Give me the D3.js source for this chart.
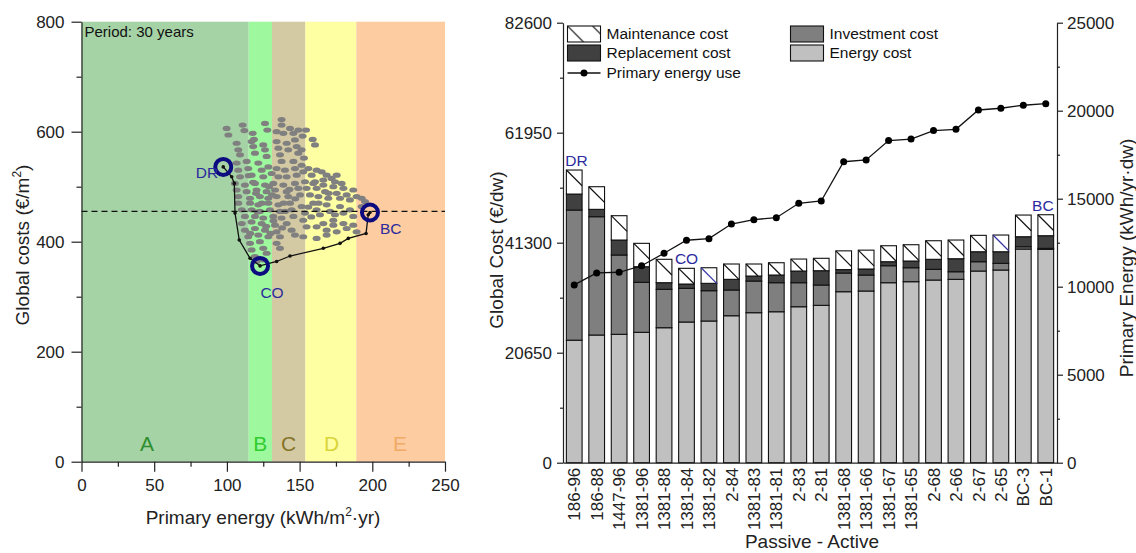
<!DOCTYPE html>
<html>
<head>
<meta charset="utf-8">
<script src="https://cdn.jsdelivr.net/npm/d3@7"></script>
<style>
  body { margin: 0; background: #fff; }
  svg { display: block; font-family: Arial, "Liberation Sans", sans-serif; }
</style>
</head>
<body>
<svg id="chart" width="1136" height="553"></svg>
<script>
// ---------- Left panel: global cost vs primary energy (30-year period) ----------
const bandLetters = ["A", "B", "C", "D", "E"];
const bandEdges = [0, 115, 131, 154, 189, 250];            // kWh/m²·yr class limits
const bandLabelAt = [45, 123, 142.5, 172, 219];             // where each class letter sits
const energyTicks = [0, 50, 100, 150, 200, 250];
const costTicks = [0, 200, 400, 600, 800];
const referenceCost = 455;                                   // €/m², dashed reference level

// Cost-optimal frontier (kWh/m²·yr, €/m²)
const frontierEnergy = [97.5, 103.3, 105.1, 105.6, 108.5, 115.9, 122.8, 134.2, 143.4, 166.3, 177.8, 183.5, 195.7, 197.2, 198.4];
const frontierCost   = [536, 518, 506, 452, 403, 370, 356, 364, 374, 388, 397, 406, 415, 449, 453];

// Highlighted packages
const keyNames  = ["DR", "CO", "BC"];
const keyEnergy = [97.5, 122.8, 198.4];
const keyCost   = [536, 356, 453];

// All evaluated packages [primary energy, global cost]
const cloudPoints = [
  [99.8,606],[101,594],[110.8,612],[112,602],[117.7,597],[118.6,586],[126.2,615],[127.8,603],[134.2,600],
  [137.6,612],[137.6,622],[138.8,597],[143.4,606],[145.7,597],[149.1,603],[152.1,592],[154.4,603],[159,586],[160.6,576],
  [106.7,579],[107.8,567],[109,558],[117,582],[118.1,573],[119.3,561],[125,576],[126.2,567],[127.3,555],
  [134.2,582],[135.4,570],[136.5,558],[141.1,579],[142.2,567],[146.8,585],[148,573],[149.1,561],[151.4,567],
  [153,552],[137.6,546],[145.7,546],
  [106.7,543],[107.8,530],[109,518],[113.6,546],[114.7,533],[117,521],[121.6,543],[123.9,530],[125,518],
  [128.5,536],[130.8,524],[134.2,533],[135.4,518],[139.9,530],[141.1,518],[146.8,533],[148,521],[151.4,539],
  [152.5,527],[156,533],[158.3,521],[160.6,509],[161.7,530],[165.2,527],[166.3,512],[168.6,521],[172,515],
  [174.3,509],[175.5,521],[178.9,506],
  [105.5,506],[106.7,494],[107.8,482],[112.4,503],[113.6,491],[115.9,479],[119.3,506],[120.4,494],[122.7,482],
  [126.2,503],[127.3,491],[128.5,479],[131.9,506],[133.1,494],[134.2,482],[138.8,503],[141.1,491],[142.2,482],
  [146.8,506],[149.1,497],[150.3,485],[153.7,509],[154.8,497],[157.1,485],[159.4,506],[161.7,497],[162.9,482],
  [166.3,503],[167.5,491],[169.7,479],[173.2,500],[175.5,488],[177.8,479],[180.1,497],[182.4,485],[184.6,476],
  [186.9,494],[189.2,482],[192.7,479],[195,473],
  [107.8,470],[110.2,458],[112.4,446],[115.9,470],[117,458],[119.3,446],[121.6,467],[122.7,455],[125,443],
  [128.5,470],[129.6,458],[131.9,446],[135.4,467],[136.5,455],[137.6,443],[143.4,470],[144.5,458],[145.7,446],
  [151.4,464],[153.7,452],[159.4,470],[161.7,458],[164,449],[168.6,467],[170.9,455],[174.3,449],[177.8,464],
  [180.1,452],[184.6,458],[186.9,446],[192.7,464],[173.2,439],
  [110.2,433],[112.4,421],[114.7,409],[117,436],[119.3,424],[121.6,412],[123.9,433],[126.2,421],[128.5,409],
  [133.1,430],[134.2,418],[136.5,409],[141.1,433],[144.5,421],[146.8,412],[152.5,439],[154.8,427],[161.7,427],
  [166.3,433],[168.6,421],[173.2,430],[175.5,418],[180.1,433],[182.4,424],[186.9,430],[189.2,418],
  [115.9,397],[117,385],[119.3,373],[122.7,400],[125,388],[127.3,379],[134.2,397],[136.5,388],[152.5,409],
  [161.7,406],[168.6,412],[120.4,364],[125,367],
  [115,520],[118,508],[120,488],[124,470],[129,500],[131,485],[139,470],[140,455],[132,438],[127,428],
  [121,454],[116,415],[130,415],[138,425],[147,478],[156,463],[163,470],[170,488],[143,495],[158,445]
];

// ---------- Right panel: cost breakdown per package (€/dwelling) ----------
const packages = ["186-96","186-88","1447-96","1381-96","1381-88","1381-84","1381-82","2-84","1381-83","1381-81","2-83",
                  "2-81","1381-68","1381-66","1381-67","1381-65","2-68","2-66","2-67","2-65","BC-3","BC-1"];
const energyCost      = [23000,23970,24100,24480,25340,26410,26600,27590,28160,28340,29280,29540,32100,32230,33790,33980,34290,34420,35980,36170,40110,40050];
const investmentCost  = [24430,22210,14890, 9380, 7210, 6320, 5690, 4830, 5940, 5450, 4510, 3810, 3500, 3000, 3190, 2620, 2010, 1430, 1750, 1260,  430,  190];
const replacementCost = [ 3000, 1380, 2810, 2930, 1240,  810, 1380, 2000,  940, 1440, 2190, 2690,  650, 1130,  750, 1260, 1880, 2440, 1870, 2170, 1880, 2370];
const maintenanceCost = [ 4510, 4250, 4570, 4390, 4390, 2950, 2930, 2880, 2260, 2310, 2250, 2330, 3520, 3540, 3000, 3060, 3490, 3510, 3080, 3140, 4070, 3940];
const primaryEnergyUse = [10100,10780,10820,11190,11900,12640,12730,13560,13810,13920,14740,14870,17100,17200,18300,18390,18870,18940,20040,20140,20310,20400];
const globalCostTicks = [0, 20650, 41300, 61950, 82600];
const primaryEnergyTicks = [0, 5000, 10000, 15000, 20000, 25000];
const barLabels = [["DR", "186-96"], ["CO", "1381-84"], ["BC", "BC-1"]];
const blueHatchPackages = ["1381-82", "2-65"];

const costSeries = ["Energy cost", "Investment cost", "Replacement cost", "Maintenance cost"];
const costValues = [energyCost, investmentCost, replacementCost, maintenanceCost];

// ---------- styling ----------
const bandFill = ["#a5d3a5", "#9ef89e", "#d3c9a3", "#fefea2", "#fdcca0"];
const bandText = ["#2f8f2f", "#30cc30", "#857428", "#d9d43a", "#f2aa66"];
const segFill = { "Energy cost": "#c0c0c0", "Investment cost": "#7f7f7f", "Replacement cost": "#404040", "Maintenance cost": "#ffffff" };
const navy = "#0c0c80";
const labelBlue = "#2b2b9e";
const axisColor = "#222";
const tickFont = 17, titleFont = 19;
const plain = d3.format("d");

const svg = d3.select("#chart");

function styleAxis(g) {
  g.attr("font-size", tickFont).attr("font-family", "Arial, 'Liberation Sans', sans-serif");
  g.selectAll("path, line").attr("stroke", axisColor).attr("stroke-width", 1.2);
  g.selectAll("text").attr("fill", "#222");
}

// ================= LEFT PANEL =================
const xL = d3.scaleLinear([0, 250], [81.5, 445]);
const yL = d3.scaleLinear([0, 800], [461.7, 21.7]);

const left = svg.append("g");

// energy class bands
left.selectAll("rect.band").data(bandLetters).join("rect")
  .attr("class", "band")
  .attr("x", (d, i) => xL(bandEdges[i]))
  .attr("width", (d, i) => xL(bandEdges[i + 1]) - xL(bandEdges[i]))
  .attr("y", yL(800))
  .attr("height", yL(0) - yL(800))
  .attr("fill", (d, i) => bandFill[i]);

left.selectAll("text.band").data(bandLetters).join("text")
  .attr("class", "band")
  .attr("x", (d, i) => xL(bandLabelAt[i]))
  .attr("y", yL(0) - 11)
  .attr("text-anchor", "middle")
  .attr("font-size", 21)
  .attr("fill", (d, i) => bandText[i])
  .text(d => d);

left.append("text").attr("x", xL(0) + 3).attr("y", 37)
  .attr("font-size", 15).attr("fill", "#111").text("Period: 30 years");

// package cloud
left.append("g").selectAll("ellipse").data(cloudPoints).join("ellipse")
  .attr("cx", d => xL(d[0])).attr("cy", d => yL(d[1]))
  .attr("rx", 4).attr("ry", 2.6).attr("fill", "#808080");

// reference cost level
left.append("line")
  .attr("x1", xL(0)).attr("x2", xL(250))
  .attr("y1", yL(referenceCost)).attr("y2", yL(referenceCost))
  .attr("stroke", "#111").attr("stroke-width", 1.2).attr("stroke-dasharray", "6,4");

// cost-optimal frontier
const frontier = frontierEnergy.map((e, i) => [e, frontierCost[i]]);
left.append("path")
  .attr("d", d3.line().x(d => xL(d[0])).y(d => yL(d[1]))(frontier))
  .attr("fill", "none").attr("stroke", "#111").attr("stroke-width", 1.3);
left.append("g").selectAll("circle").data(frontier).join("circle")
  .attr("cx", d => xL(d[0])).attr("cy", d => yL(d[1])).attr("r", 1.8).attr("fill", "#111");

// highlighted packages
left.append("g").selectAll("circle").data(keyNames).join("circle")
  .attr("cx", (d, i) => xL(keyEnergy[i])).attr("cy", (d, i) => yL(keyCost[i]))
  .attr("r", 8).attr("fill", "none").attr("stroke", navy).attr("stroke-width", 4);

left.append("g").selectAll("text").data(keyNames).join("text")
  .attr("x", (d, i) => xL(keyEnergy[i]) + (d === "BC" ? 10 : d === "CO" ? 12 : -5))
  .attr("y", (d, i) => yL(keyCost[i]) + (d === "DR" ? 11 : d === "CO" ? 32 : 21))
  .attr("text-anchor", d => d === "DR" ? "end" : d === "CO" ? "middle" : "start")
  .attr("font-size", 15.5).attr("fill", labelBlue)
  .text(d => d);

// axes
const xAxisL = left.append("g").attr("transform", `translate(0,${yL(0)})`)
  .call(d3.axisBottom(xL).tickValues(energyTicks).tickFormat(plain).tickSize(10).tickSizeOuter(0).tickPadding(7));
styleAxis(xAxisL);
const xMinorL = left.append("g").attr("transform", `translate(0,${yL(0)})`)
  .call(d3.axisBottom(xL).tickValues([25, 75, 125, 175, 225]).tickSize(5).tickFormat(""));
styleAxis(xMinorL); xMinorL.select(".domain").remove();

const yAxisL = left.append("g").attr("transform", `translate(${xL(0)},0)`)
  .call(d3.axisLeft(yL).tickValues(costTicks).tickFormat(plain).tickSize(10).tickSizeOuter(0).tickPadding(7));
styleAxis(yAxisL);
const yMinorL = left.append("g").attr("transform", `translate(${xL(0)},0)`)
  .call(d3.axisLeft(yL).tickValues([100, 300, 500, 700]).tickSize(5).tickFormat(""));
styleAxis(yMinorL); yMinorL.select(".domain").remove();

// axis titles
const xTitleL = left.append("text").attr("x", 263).attr("y", 524)
  .attr("text-anchor", "middle").attr("font-size", titleFont).attr("fill", "#222");
xTitleL.append("tspan").text("Primary energy (kWh/m");
xTitleL.append("tspan").attr("font-size", 12).attr("dy", -8).text("2");
xTitleL.append("tspan").attr("dy", 8).text("·yr)");

const yTitleL = left.append("text").attr("transform", "translate(29,245) rotate(-90)")
  .attr("text-anchor", "middle").attr("font-size", titleFont).attr("fill", "#222");
yTitleL.append("tspan").text("Global costs (€/m");
yTitleL.append("tspan").attr("font-size", 12).attr("dy", -8).text("2");
yTitleL.append("tspan").attr("dy", 8).text(")");

// ================= RIGHT PANEL =================
const xR = d3.scaleBand(packages, [563, 1057]).paddingInner(0.3).paddingOuter(0.15);
const yR = d3.scaleLinear([0, 82600], [462.7, 22.7]);
const yE = d3.scaleLinear([0, 25000], [462.7, 22.7]);

const right = svg.append("g");

// stacked cost bars
const stackRows = packages.map((p, i) => {
  const row = { pkg: p };
  costSeries.forEach((s, k) => row[s] = costValues[k][i]);
  return row;
});
const stacked = d3.stack().keys(costSeries)(stackRows);

const segs = right.append("g").selectAll("g").data(stacked).join("g")
  .attr("fill", d => segFill[d.key]);
segs.selectAll("rect").data(d => d).join("rect")
  .attr("x", d => xR(d.data.pkg))
  .attr("width", xR.bandwidth())
  .attr("y", d => yR(d[1]))
  .attr("height", d => yR(d[0]) - yR(d[1]))
  .attr("stroke", "#111").attr("stroke-width", 1.1);

// maintenance hatching: one diagonal per box from its upper-left corner
const maint = stacked[stacked.length - 1];
right.append("g").selectAll("line").data(maint).join("line")
  .each(function (d) {
    const x0 = xR(d.data.pkg), top = yR(d[1]);
    const w = xR.bandwidth(), h = yR(d[0]) - yR(d[1]);
    const s = Math.min(w, h);
    d3.select(this).attr("x1", x0).attr("y1", top).attr("x2", x0 + s).attr("y2", top + s);
  })
  .attr("stroke", d => blueHatchPackages.includes(d.data.pkg) ? "#3535a5" : "#111")
  .attr("stroke-width", 1.2);

// primary energy use line
const pe = packages.map((p, i) => [p, primaryEnergyUse[i]]);
right.append("path")
  .attr("d", d3.line().x(d => xR(d[0]) + xR.bandwidth() / 2).y(d => yE(d[1]))(pe))
  .attr("fill", "none").attr("stroke", "#111").attr("stroke-width", 1.3);
right.append("g").selectAll("circle").data(pe).join("circle")
  .attr("cx", d => xR(d[0]) + xR.bandwidth() / 2).attr("cy", d => yE(d[1]))
  .attr("r", 3.5).attr("fill", "#000");

// package labels above bars
right.append("g").selectAll("text").data(barLabels).join("text")
  .attr("x", d => {
    const c = xR(d[1]) + xR.bandwidth() / 2;
    return d[0] === "DR" ? xR(d[1]) - 1 : d[0] === "BC" ? xR(d[1]) + xR.bandwidth() : c;
  })
  .attr("y", d => {
    const i = packages.indexOf(d[1]);
    const total = energyCost[i] + investmentCost[i] + replacementCost[i] + maintenanceCost[i];
    return yR(total) - 4;
  })
  .attr("text-anchor", d => d[0] === "DR" ? "start" : d[0] === "BC" ? "end" : "middle")
  .attr("font-size", 15.5).attr("fill", labelBlue)
  .text(d => d[0]);

// axes
const xAxisR = right.append("g").attr("transform", `translate(0,${yR(0)})`)
  .call(d3.axisBottom(xR).tickSize(0).tickSizeOuter(0));
styleAxis(xAxisR);
xAxisR.selectAll(".tick text")
  .attr("transform", "rotate(-90)")
  .attr("text-anchor", "end")
  .attr("x", -5).attr("y", 0).attr("dy", "0.36em");

const yAxisR = right.append("g").attr("transform", `translate(563,0)`)
  .call(d3.axisLeft(yR).tickValues(globalCostTicks).tickFormat(plain).tickSize(6).tickSizeOuter(0).tickPadding(5));
styleAxis(yAxisR);
const yMinorR = right.append("g").attr("transform", `translate(563,0)`)
  .call(d3.axisLeft(yR).tickValues(globalCostTicks.slice(1).map(v => v - 10325)).tickSize(3).tickFormat(""));
styleAxis(yMinorR); yMinorR.select(".domain").remove();

const yAxisE = right.append("g").attr("transform", `translate(1057,0)`)
  .call(d3.axisRight(yE).tickValues(primaryEnergyTicks).tickFormat(plain).tickSize(6).tickSizeOuter(0).tickPadding(4));
styleAxis(yAxisE);
const yMinorE = right.append("g").attr("transform", `translate(1057,0)`)
  .call(d3.axisRight(yE).tickValues([2500, 7500, 12500, 17500, 22500]).tickSize(3).tickFormat(""));
styleAxis(yMinorE); yMinorE.select(".domain").remove();

// axis titles
right.append("text").attr("x", 812).attr("y", 548).attr("text-anchor", "middle")
  .attr("font-size", titleFont).attr("fill", "#222").text("Passive - Active");
right.append("text").attr("transform", "translate(503,250) rotate(-90)").attr("text-anchor", "middle")
  .attr("font-size", titleFont).attr("fill", "#222").text("Global Cost (€/dw)");
right.append("text").attr("transform", "translate(1133,258) rotate(-90)").attr("text-anchor", "middle")
  .attr("font-size", titleFont).attr("fill", "#222").text("Primary Energy (kWh/yr·dw)");

// legend
const defs = svg.append("defs");
defs.append("pattern").attr("id", "legendHatch").attr("patternUnits", "userSpaceOnUse")
  .attr("width", 25).attr("height", 25).attr("x", 567.5).attr("y", 26)
  .append("path").attr("d", "M0,0 L25,25").attr("stroke", "#111").attr("stroke-width", 1.2);

const legendItems = [
  { name: "Maintenance cost", col: 0, row: 0 },
  { name: "Replacement cost", col: 0, row: 1 },
  { name: "Investment cost", col: 1, row: 0 },
  { name: "Energy cost", col: 1, row: 1 }
];
const legendColX = [567.5, 790.5];
const legendRowY = [26, 45];
const lg = right.append("g");
legendItems.forEach(it => {
  const x = legendColX[it.col], y = legendRowY[it.row];
  lg.append("rect").attr("x", x).attr("y", y).attr("width", 33).attr("height", 16)
    .attr("fill", it.name === "Maintenance cost" ? "url(#legendHatch)" : segFill[it.name])
    .attr("stroke", "#111").attr("stroke-width", 1.1);
  lg.append("text").attr("x", x + 39).attr("y", y + 8).attr("dy", "0.35em")
    .attr("font-size", 15.5).attr("fill", "#111").text(it.name);
});
lg.append("line").attr("x1", 567.5).attr("x2", 600.5).attr("y1", 73).attr("y2", 73)
  .attr("stroke", "#111").attr("stroke-width", 1.3);
lg.append("circle").attr("cx", 584).attr("cy", 73).attr("r", 3.5).attr("fill", "#000");
lg.append("text").attr("x", 606.5).attr("y", 73).attr("dy", "0.35em")
  .attr("font-size", 15.5).attr("fill", "#111").text("Primary energy use");
</script>
</body>
</html>
